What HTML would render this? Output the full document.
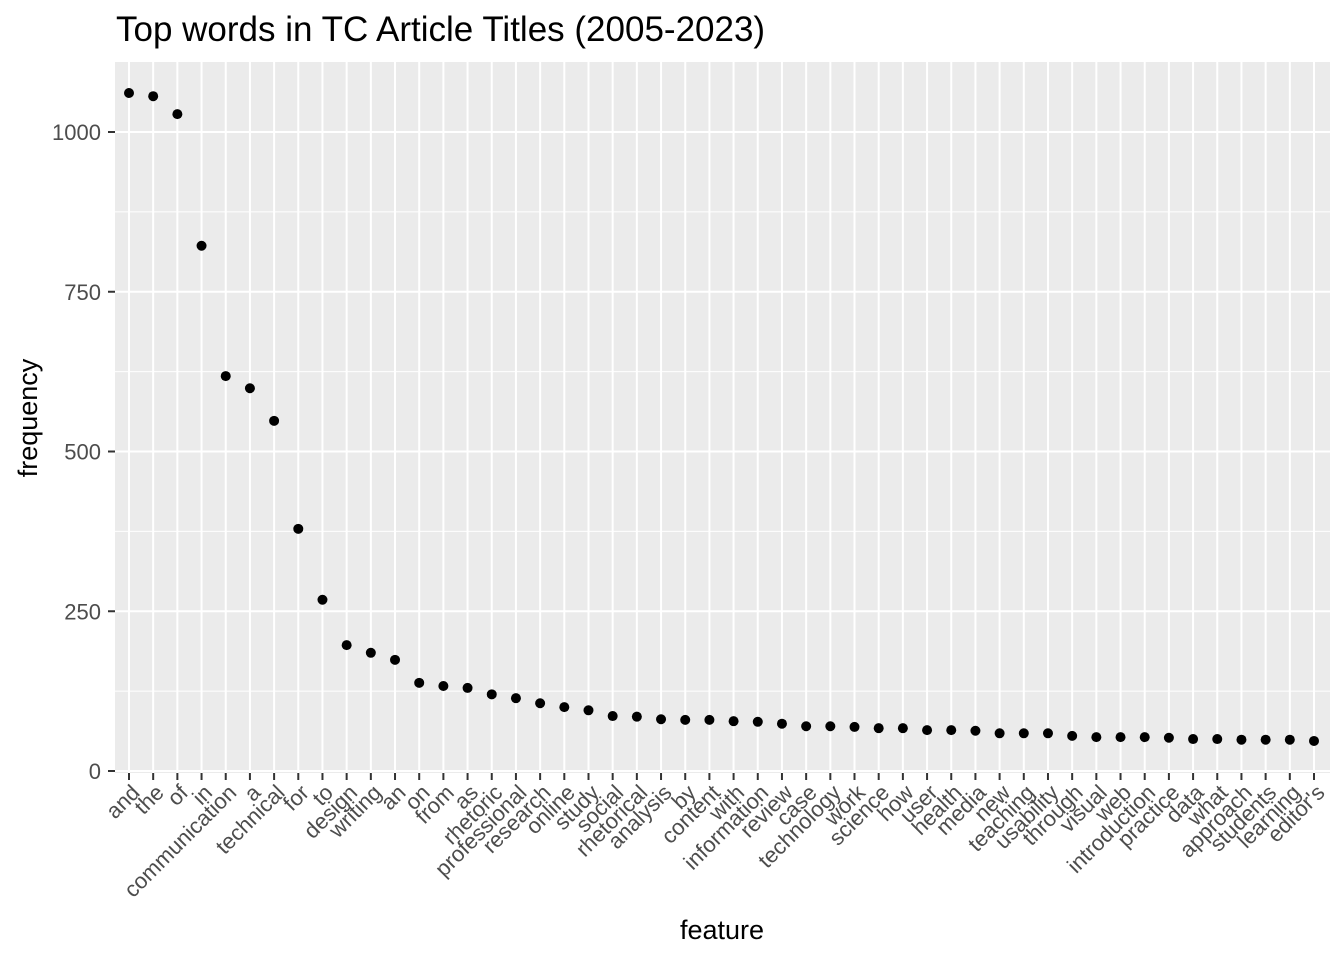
<!DOCTYPE html>
<html><head><meta charset="utf-8"><style>
body{margin:0;background:#fff;}
svg text{font-family:"Liberation Sans",Arial,sans-serif;}
</style></head><body>
<svg id="chart" width="1344" height="960"></svg>
<script>
const categories=["and","the","of","in","communication","a","technical","for","to","design","writing","an","on","from","as","rhetoric","professional","research","online","study","social","rhetorical","analysis","by","content","with","information","review","case","technology","work","science","how","user","health","media","new","teaching","usability","through","visual","web","introduction","practice","data","what","approach","students","learning","editor's"];
const frequencies=[1061,1056,1028,822,618,599,548,379,268,197,185,174,138,133,130,120,114,106,100,95,86,85,81,80,80,78,77,74,70,70,69,67,67,64,64,63,59,59,59,55,53,53,53,52,50,50,49,49,49,47];
const yTicks=[0,250,500,750,1000];
const yMinor=[125,375,625,875];

const svg=document.getElementById('chart');
const NS='http://www.w3.org/2000/svg';
const L=115,R=1330,T=62,B=773;
function x(i){return 129+i*(1314-129)/(categories.length-1);}
function y(v){return 771-v*0.639;}
function mk(tag,attrs,parent){const e=document.createElementNS(NS,tag);for(const k in attrs)e.setAttribute(k,attrs[k]);(parent||svg).appendChild(e);return e;}

const panel=mk('rect',{x:L,y:T,width:R-L,height:B-T,fill:'#ebebeb'});


yMinor.forEach(v=>{const l=mk('line',{x1:L,x2:R,y1:y(v),y2:y(v),stroke:'#fff','stroke-width':1});

});
yTicks.forEach(v=>{const l=mk('line',{x1:L,x2:R,y1:y(v),y2:y(v),stroke:'#fff','stroke-width':2});


const t=mk('line',{x1:L-7,x2:L,y1:y(v),y2:y(v),stroke:'#333','stroke-width':2});


const tx=mk('text',{x:L-14,y:y(v)+8,'text-anchor':'end','font-size':22,fill:'#4d4d4d'});tx.textContent=v;

});
categories.forEach((c,i)=>{const l=mk('line',{x1:x(i),x2:x(i),y1:T,y2:B,stroke:'#fff','stroke-width':2});


const t=mk('line',{x1:x(i),x2:x(i),y1:B,y2:B+7,stroke:'#333','stroke-width':2});


const tx=mk('text',{x:0,y:0,'text-anchor':'end','font-size':22,fill:'#4d4d4d',transform:`translate(${x(i)+12},${B+21}) rotate(-45)`});tx.textContent=c;

});
frequencies.forEach((v,i)=>{const p=mk('circle',{cx:x(i),cy:y(v),r:5,fill:'#000'});

});
const title=mk('text',{x:116,y:41,'font-size':35,fill:'#000'});title.textContent='Top words in TC Article Titles (2005-2023)';


const xt=mk('text',{x:722,y:939,'text-anchor':'middle','font-size':27,fill:'#000'});xt.textContent='feature';


const yt=mk('text',{x:0,y:0,'text-anchor':'middle','font-size':27,fill:'#000',transform:'translate(37,418) rotate(-90)'});yt.textContent='frequency';


</script>
</body></html>
